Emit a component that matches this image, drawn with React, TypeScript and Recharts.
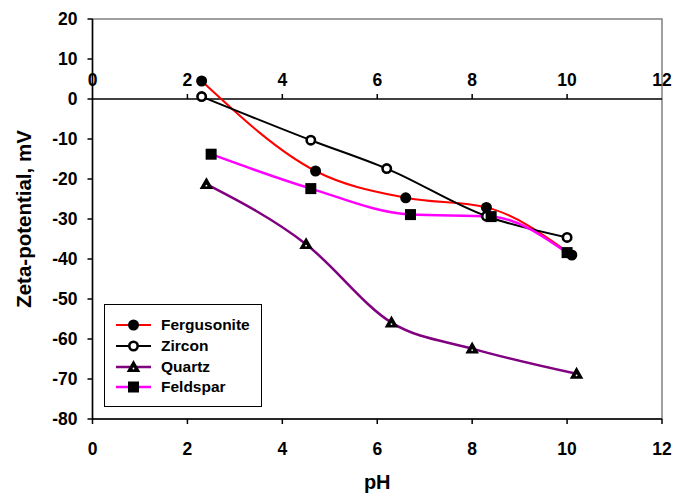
import React from 'react'
import {
  LineChart,
  Line,
  XAxis,
  YAxis,
  ReferenceLine,
  ReferenceDot,
  ReferenceArea
} from 'recharts'

// pH / zeta-potential readings for each mineral
const fergusonitePH = [2.3, 4.7, 6.6, 8.3, 10.1]
const fergusoniteZeta = [4.5, -18, -24.7, -27.1, -39]

const zirconPH = [2.3, 4.6, 6.2, 8.3, 10.0]
const zirconZeta = [0.6, -10.3, -17.4, -29.3, -34.6]

const quartzPH = [2.4, 4.5, 6.3, 8.0, 10.2]
const quartzZeta = [-21.3, -36.3, -55.9, -62.4, -68.7]

const feldsparPH = [2.5, 4.6, 6.7, 8.4, 10.0]
const feldsparZeta = [-13.8, -22.4, -28.9, -29.4, -38.4]

const xTicks = [0, 2, 4, 6, 8, 10, 12]
const yTicks = [-80, -70, -60, -50, -40, -30, -20, -10, 0, 10, 20]

const toPoints = (xs: number[], ys: number[]) =>
  xs.map((x, i) => ({ x, y: ys[i] }))

const FONT = 'Liberation Sans, Arial, sans-serif'

const CircleFilled = (props: any) => {
  const { cx, cy } = props
  if (cx == null || cy == null) return null
  return <circle cx={cx} cy={cy} r={5.5} fill="#000" />
}

const CircleOpen = (props: any) => {
  const { cx, cy } = props
  if (cx == null || cy == null) return null
  return <circle cx={cx} cy={cy} r={4.2} fill="#fff" stroke="#000" strokeWidth={2.6} />
}

const Triangle = (props: any) => {
  const { cx, cy } = props
  if (cx == null || cy == null) return null
  const s = 5.5
  return (
    <g>
      <polygon
        points={`${cx},${cy - s} ${cx + s},${cy + s * 0.75} ${cx - s},${cy + s * 0.75}`}
        fill="#000"
        stroke="#000"
        strokeWidth={1.5}
      />
      <circle cx={cx} cy={cy + 1.5} r={0.9} fill="#fff" />
    </g>
  )
}

const Square = (props: any) => {
  const { cx, cy } = props
  if (cx == null || cy == null) return null
  return <rect x={cx - 5.5} y={cy - 5.5} width={11} height={11} fill="#000" />
}

const series = [
  { name: 'Fergusonite', color: '#ff0000', width: 2, dot: CircleFilled, data: toPoints(fergusonitePH, fergusoniteZeta) },
  { name: 'Zircon', color: '#000000', width: 2, dot: CircleOpen, data: toPoints(zirconPH, zirconZeta) },
  { name: 'Quartz', color: '#800080', width: 2.5, dot: Triangle, data: toPoints(quartzPH, quartzZeta) },
  { name: 'Feldspar', color: '#ff00ff', width: 2.5, dot: Square, data: toPoints(feldsparPH, feldsparZeta) }
]

const LegendBox = () => (
  <div
    style={{
      position: 'absolute',
      left: 104,
      top: 304,
      width: 158,
      height: 103,
      border: '1px solid #000',
      background: '#fff',
      boxSizing: 'border-box',
      paddingTop: 10,
      fontFamily: FONT,
      fontWeight: 'bold',
      fontSize: 15.5
    }}
  >
    {series.map((s) => {
      const Dot = s.dot
      return (
        <div key={s.name} style={{ display: 'flex', alignItems: 'center', height: 20.7 }}>
          <svg width={54} height={20} style={{ flex: 'none' }}>
            <line x1={11} x2={46} y1={10} y2={10} stroke={s.color} strokeWidth={s.width} />
            <Dot cx={28.5} cy={10} />
          </svg>
          <span style={{ marginLeft: 2 }}>{s.name}</span>
        </div>
      )
    })}
  </div>
)

// tick + label on the pH axis drawn along the zero line
const ZeroAxisTick = (label: number) => (props: any) => {
  const { cx, cy } = props
  return (
    <g>
      {label > 0 && label < 12 && (
        <line x1={cx} x2={cx} y1={cy} y2={cy - 5} stroke="#000" strokeWidth={1.5} />
      )}
      <text
        x={cx}
        y={cy - 13}
        textAnchor="middle"
        fontFamily={FONT}
        fontWeight="bold"
        fontSize={17.5}
        fill="#000"
      >
        {label}
      </text>
    </g>
  )
}

export default function App() {
  return (
    <div style={{ position: 'absolute', left: 0, top: 0, width: 675, height: 498, background: '#fff' }}>
      <LineChart width={675} height={498} margin={{ top: 19, right: 13, left: 0, bottom: 0 }}>
        <ReferenceArea
          x1={0}
          x2={12}
          y1={-80}
          y2={20}
          fill="none"
          stroke="#808080"
          strokeWidth={1.5}
          ifOverflow="visible"
        />
        <XAxis
          type="number"
          dataKey="x"
          domain={[0, 12]}
          ticks={xTicks}
          allowDataOverflow
          height={79}
          stroke="#000"
          strokeWidth={1.5}
          tickSize={5}
          tick={{ fontFamily: FONT, fontWeight: 'bold', fontSize: 17.5, fill: '#000', dy: 17 }}
          label={{
            value: 'pH',
            position: 'insideBottom',
            offset: 9,
            style: { fontFamily: FONT, fontWeight: 'bold', fontSize: 20, fill: '#000' }
          }}
        />
        <YAxis
          type="number"
          domain={[-80, 20]}
          ticks={yTicks}
          width={92.5}
          stroke="#000"
          strokeWidth={1.5}
          tickSize={5}
          tick={{ fontFamily: FONT, fontWeight: 'bold', fontSize: 17.5, fill: '#000', dx: -8 }}
          label={{
            value: 'Zeta-potential, mV',
            angle: -90,
            position: 'insideLeft',
            offset: 24,
            style: { fontFamily: FONT, fontWeight: 'bold', fontSize: 20.5, fill: '#000', textAnchor: 'middle' }
          }}
        />
        <ReferenceLine y={0} stroke="#000" strokeWidth={1.5} />
        {xTicks.map((t) => (
          <ReferenceDot key={t} x={t} y={0} r={0} ifOverflow="visible" shape={ZeroAxisTick(t)} />
        ))}
        {series.map((s) => (
          <Line
            key={s.name}
            data={s.data}
            dataKey="y"
            name={s.name}
            type="monotone"
            stroke={s.color}
            strokeWidth={s.width}
            dot={s.dot}
            activeDot={false}
            isAnimationActive={false}
          />
        ))}
      </LineChart>
      <LegendBox />
    </div>
  )
}
